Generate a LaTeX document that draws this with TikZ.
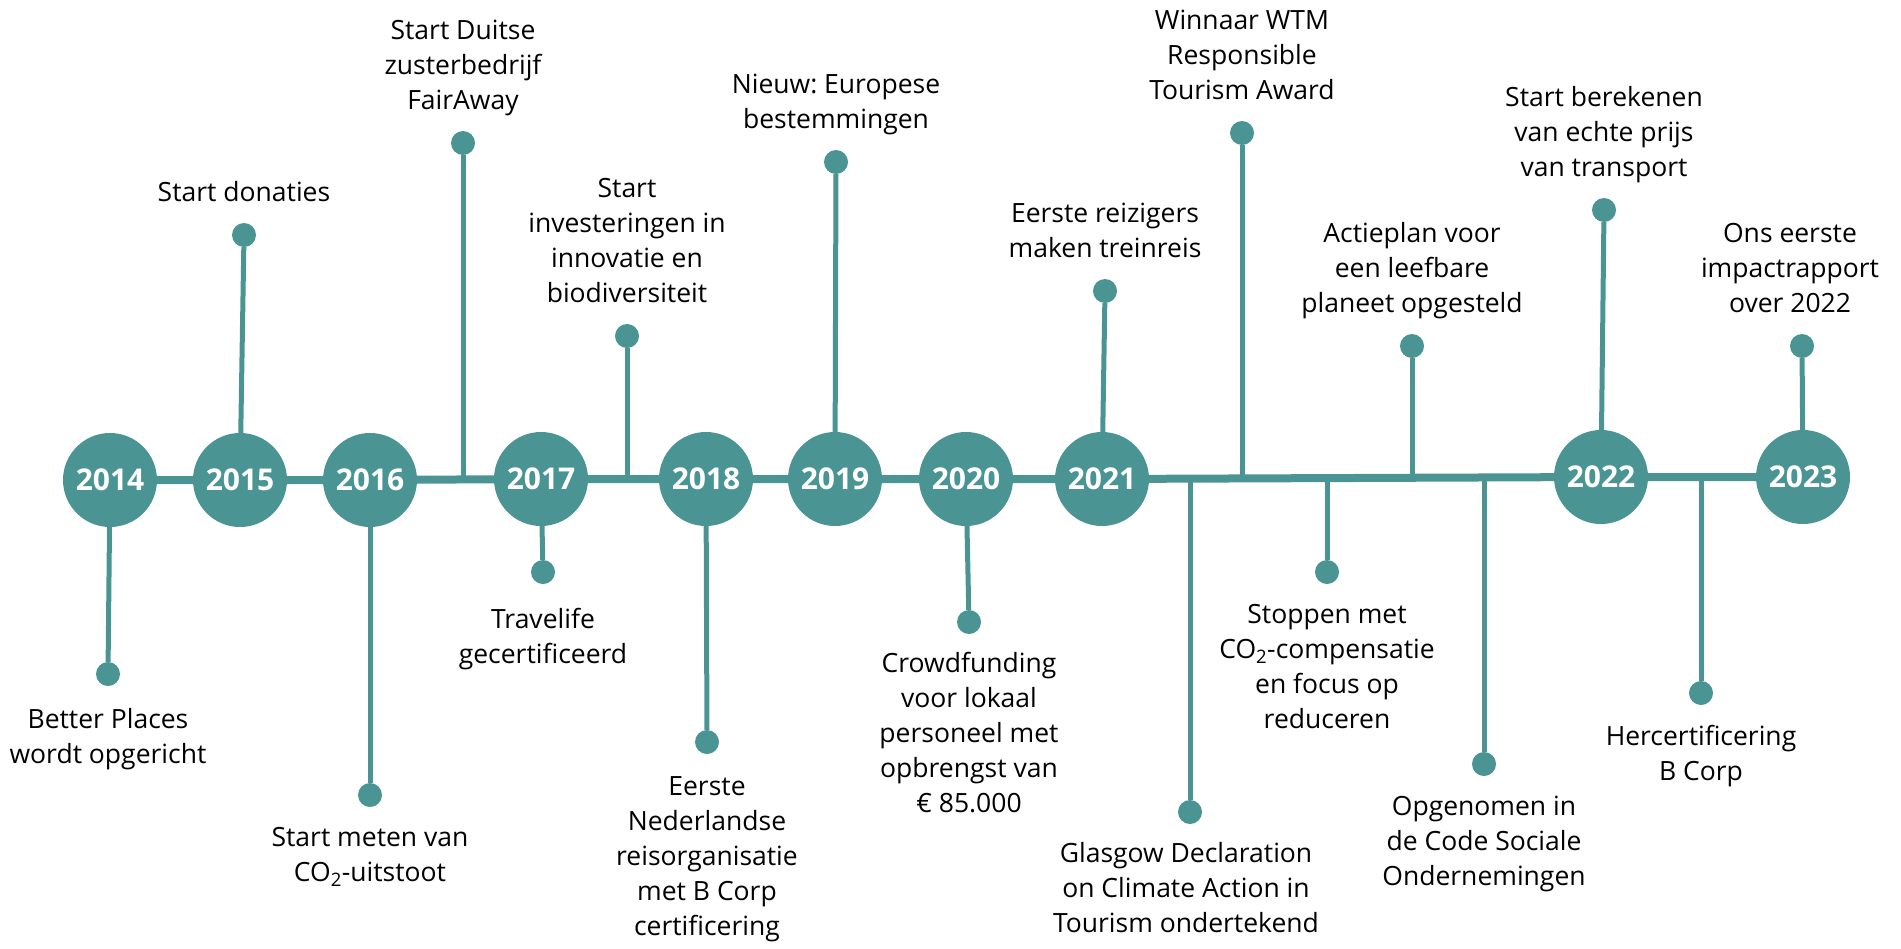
\documentclass[tikz,border=0pt]{standalone}
\usepackage{fontspec}
\setmainfont{Open Sans}
\usetikzlibrary{positioning,backgrounds}
\definecolor{tealline}{RGB}{74,148,148}
\frenchspacing

\begin{document}
\begin{tikzpicture}[x=1pt,y=-1pt,
  yearnode/.style={circle,fill=tealline,minimum size=94pt,inner sep=0pt,
    text=white,font=\fontsize{30}{36}\selectfont\bfseries},
  dotnode/.style={circle,fill=tealline,minimum size=24pt,inner sep=0pt},
  uptxt/.style={align=center,inner sep=0pt,font=\fontsize{26.5}{35}\selectfont,
    execute at end node=\strut},
  downtxt/.style={align=center,inner sep=0pt,font=\fontsize{26.5}{35}\selectfont,
    execute at begin node=\strut},
  mainline/.style={tealline,line width=8pt},
  stemline/.style={tealline,line width=5pt}]

\useasboundingbox (0,0) rectangle (1901,948);

% years
\node[yearnode] (y2014) at (110,480) {2014};
\node[yearnode] (y2015) at (240,480) {2015};
\node[yearnode] (y2016) at (370,480) {2016};
\node[yearnode] (y2017) at (541,479) {2017};
\node[yearnode] (y2018) at (706,479) {2018};
\node[yearnode] (y2019) at (835,479) {2019};
\node[yearnode] (y2020) at (966,479) {2020};
\node[yearnode] (y2021) at (1102,479) {2021};
\node[yearnode] (y2022) at (1601,477) {2022};
\node[yearnode] (y2023) at (1803,477) {2023};

% points on the line
\coordinate (fairawayB) at (463,480);
\coordinate (investB) at (627,479);
\coordinate (wtmB) at (1242,478);
\coordinate (actieB) at (1412,478);
\coordinate (glasgowB) at (1190,478);
\coordinate (stoppenB) at (1327,478);
\coordinate (codeB) at (1484,478);
\coordinate (hercertB) at (1701,477);

% events above
\node[dotnode] (donaties) at (244,235) {};
\node[uptxt,above=11pt of donaties] {Start donaties};
\node[dotnode] (fairaway) at (463,143) {};
\node[uptxt,above=11pt of fairaway] {Start Duitse\\zusterbedrijf\\FairAway};
\node[dotnode] (invest) at (627,336) {};
\node[uptxt,above=11pt of invest] {Start\\investeringen in\\innovatie en\\biodiversiteit};
\node[dotnode] (europa) at (836,162) {};
\node[uptxt,above=11pt of europa] {Nieuw: Europese\\bestemmingen};
\node[dotnode] (trein) at (1105,291) {};
\node[uptxt,above=11pt of trein] {Eerste reizigers\\maken treinreis};
\node[dotnode] (wtm) at (1242,133) {};
\node[uptxt,above=11pt of wtm] {Winnaar WTM\\Responsible\\Tourism Award};
\node[dotnode] (actie) at (1412,346) {};
\node[uptxt,above=11pt of actie] {Actieplan voor\\een leefbare\\planeet opgesteld};
\node[dotnode] (prijs) at (1604,210) {};
\node[uptxt,above=11pt of prijs] {Start berekenen\\van echte prijs\\van transport};
\node[dotnode] (rapport) at (1802,346) {};
\node[uptxt,above=11pt of rapport,xshift=-12pt] {Ons eerste\\impactrapport\\over 2022};

% events below
\node[dotnode] (opgericht) at (108,674) {};
\node[downtxt,below=22pt of opgericht] {Better Places\\wordt opgericht};
\node[dotnode] (meten) at (370,795) {};
\node[downtxt,below=20pt of meten] {Start meten van\\CO\textsubscript{2}-uitstoot};
\node[dotnode] (travelife) at (543,572) {};
\node[downtxt,below=24pt of travelife] {Travelife\\gecertificeerd};
\node[dotnode] (bcorp) at (707,742) {};
\node[downtxt,below=22pt of bcorp] {Eerste\\Nederlandse\\reisorganisatie\\met B Corp\\certificering};
\node[dotnode] (crowd) at (969,622) {};
\node[downtxt,below=18pt of crowd] {Crowdfunding\\voor lokaal\\personeel met\\opbrengst van\\€ 85.000};
\node[dotnode] (glasgow) at (1190,812) {};
\node[downtxt,below=18pt of glasgow,xshift=-4pt] {Glasgow Declaration\\on Climate Action in\\Tourism ondertekend};
\node[dotnode] (stoppen) at (1327,572) {};
\node[downtxt,below=20pt of stoppen] {Stoppen met\\CO\textsubscript{2}-compensatie\\en focus op\\reduceren};
\node[dotnode] (code) at (1484,764) {};
\node[downtxt,below=20pt of code] {Opgenomen in\\de Code Sociale\\Ondernemingen};
\node[dotnode] (hercert) at (1701,693) {};
\node[downtxt,below=20pt of hercert] {Hercertificering\\B Corp};

\begin{scope}[on background layer]
\draw[mainline] (y2014) -- (y2015) -- (y2016) -- (y2017) -- (y2018) -- (y2019)
  -- (y2020) -- (y2021) -- (y2022) -- (y2023);
\draw[stemline] (y2015) -- (donaties);
\draw[stemline] (fairawayB) -- (fairaway);
\draw[stemline] (investB) -- (invest);
\draw[stemline] (y2019) -- (europa);
\draw[stemline] (y2021) -- (trein);
\draw[stemline] (wtmB) -- (wtm);
\draw[stemline] (actieB) -- (actie);
\draw[stemline] (y2022) -- (prijs);
\draw[stemline] (y2023) -- (rapport);
\draw[stemline] (y2014) -- (opgericht);
\draw[stemline] (y2016) -- (meten);
\draw[stemline] (y2017) -- (travelife);
\draw[stemline] (y2018) -- (bcorp);
\draw[stemline] (y2020) -- (crowd);
\draw[stemline] (glasgowB) -- (glasgow);
\draw[stemline] (stoppenB) -- (stoppen);
\draw[stemline] (codeB) -- (code);
\draw[stemline] (hercertB) -- (hercert);
\end{scope}

\end{tikzpicture}
\end{document}
